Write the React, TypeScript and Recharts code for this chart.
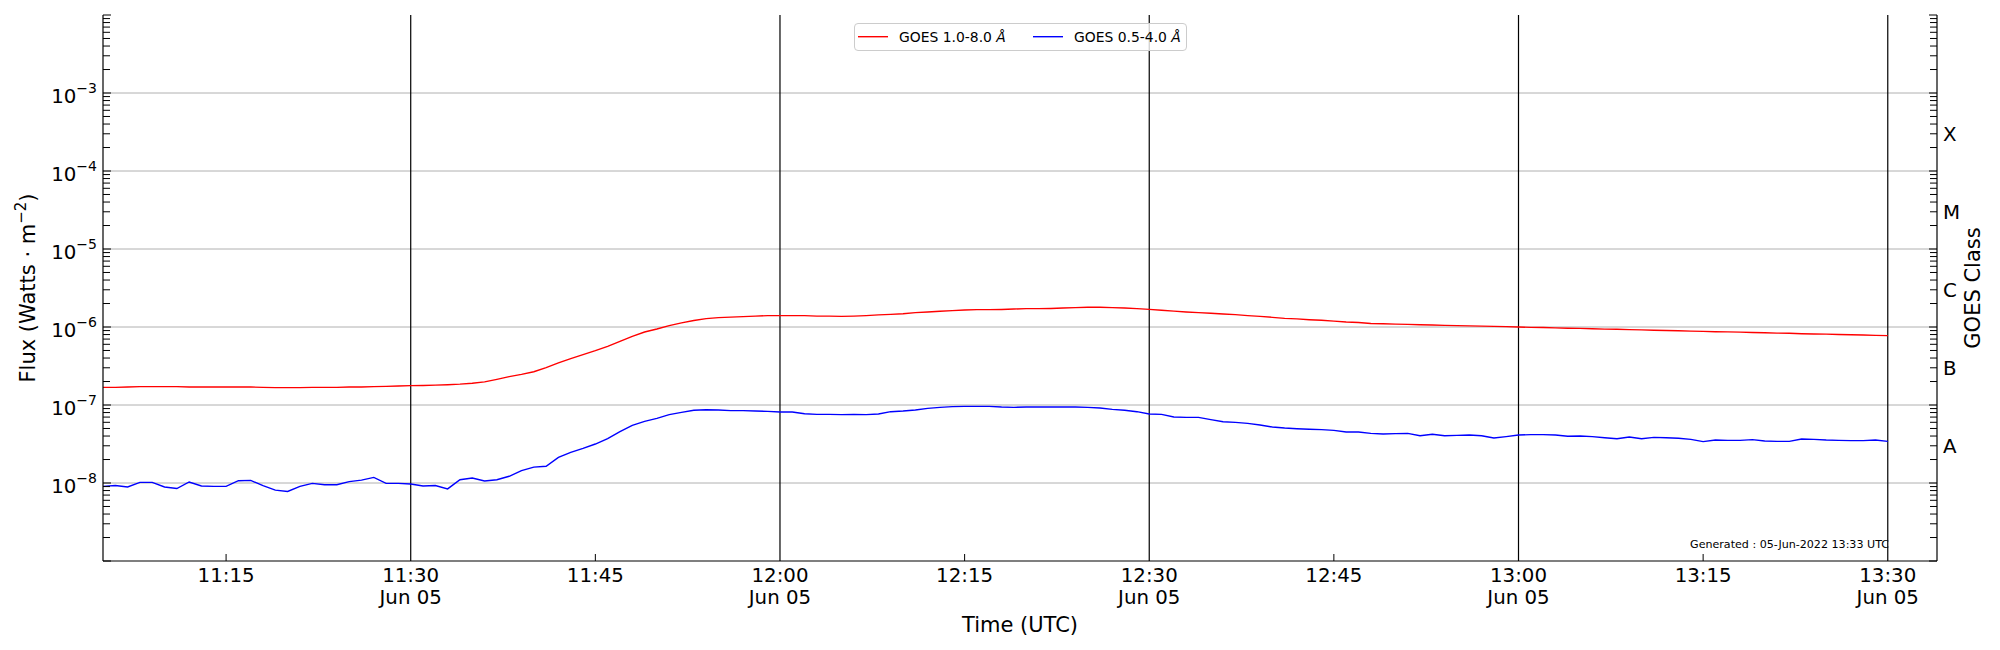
import { LineChart, Line, XAxis, YAxis, ReferenceLine, Legend } from "recharts";

// GOES XRS 1-minute averages, first sample at 11:05 UTC
const START_MINUTE = 5; // minutes after 11:00

const XRS_LONG = [
  1.685e-7, 1.685e-7, 1.7e-7, 1.72e-7, 1.72e-7, 1.72e-7, 1.72e-7, 1.7e-7, 1.7e-7, 1.7e-7,
  1.7e-7, 1.7e-7, 1.7e-7, 1.685e-7, 1.67e-7, 1.67e-7, 1.67e-7, 1.685e-7, 1.685e-7, 1.685e-7,
  1.7e-7, 1.7e-7, 1.72e-7, 1.735e-7, 1.75e-7, 1.77e-7, 1.78e-7, 1.8e-7, 1.82e-7, 1.85e-7,
  1.9e-7, 1.98e-7, 2.13e-7, 2.31e-7, 2.47e-7, 2.67e-7, 3.02e-7, 3.46e-7, 3.93e-7, 4.42e-7,
  4.97e-7, 5.65e-7, 6.55e-7, 7.59e-7, 8.63e-7, 9.43e-7, 1.04e-6, 1.13e-6, 1.21e-6, 1.28e-6,
  1.32e-6, 1.34e-6, 1.36e-6, 1.38e-6, 1.4e-6, 1.4e-6, 1.4e-6, 1.4e-6, 1.38e-6, 1.38e-6,
  1.37e-6, 1.38e-6, 1.4e-6, 1.43e-6, 1.45e-6, 1.48e-6, 1.53e-6, 1.56e-6, 1.59e-6, 1.62e-6,
  1.65e-6, 1.67e-6, 1.67e-6, 1.68e-6, 1.7e-6, 1.72e-6, 1.72e-6, 1.73e-6, 1.75e-6, 1.77e-6,
  1.79e-6, 1.79e-6, 1.77e-6, 1.75e-6, 1.72e-6, 1.68e-6, 1.64e-6, 1.6e-6, 1.56e-6, 1.53e-6,
  1.5e-6, 1.47e-6, 1.44e-6, 1.4e-6, 1.37e-6, 1.33e-6, 1.29e-6, 1.27e-6, 1.24e-6, 1.22e-6,
  1.19e-6, 1.16e-6, 1.14e-6, 1.11e-6, 1.1e-6, 1.09e-6, 1.08e-6, 1.07e-6, 1.06e-6, 1.05e-6,
  1.04e-6, 1.035e-6, 1.025e-6, 1.02e-6, 1.01e-6, 1.0e-6, 9.9e-7, 9.85e-7, 9.75e-7, 9.65e-7,
  9.6e-7, 9.5e-7, 9.4e-7, 9.35e-7, 9.25e-7, 9.2e-7, 9.1e-7, 9.0e-7, 8.95e-7, 8.85e-7,
  8.8e-7, 8.7e-7, 8.65e-7, 8.6e-7, 8.5e-7, 8.45e-7, 8.35e-7, 8.3e-7, 8.2e-7, 8.15e-7,
  8.1e-7, 8.0e-7, 7.95e-7, 7.9e-7, 7.8e-7, 7.75e-7,
];

const XRS_SHORT = [
  9.05e-9, 9.3e-9, 8.9e-9, 1.02e-8, 1.02e-8, 8.9e-9, 8.5e-9, 1.03e-8, 9.15e-9, 9.05e-9,
  9.05e-9, 1.07e-8, 1.08e-8, 9.25e-9, 8.1e-9, 7.8e-9, 9.05e-9, 9.9e-9, 9.5e-9, 9.5e-9,
  1.04e-8, 1.09e-8, 1.18e-8, 9.9e-9, 9.9e-9, 9.7e-9, 9.15e-9, 9.3e-9, 8.4e-9, 1.1e-8,
  1.16e-8, 1.06e-8, 1.1e-8, 1.22e-8, 1.44e-8, 1.6e-8, 1.64e-8, 2.13e-8, 2.47e-8, 2.78e-8,
  3.16e-8, 3.7e-8, 4.55e-8, 5.49e-8, 6.18e-8, 6.75e-8, 7.52e-8, 8.05e-8, 8.55e-8, 8.71e-8,
  8.63e-8, 8.46e-8, 8.46e-8, 8.38e-8, 8.29e-8, 8.13e-8, 8.13e-8, 7.74e-8, 7.59e-8, 7.59e-8,
  7.52e-8, 7.59e-8, 7.52e-8, 7.67e-8, 8.21e-8, 8.38e-8, 8.63e-8, 9.06e-8, 9.33e-8, 9.52e-8,
  9.61e-8, 9.61e-8, 9.61e-8, 9.43e-8, 9.33e-8, 9.43e-8, 9.43e-8, 9.43e-8, 9.43e-8, 9.43e-8,
  9.33e-8, 9.15e-8, 8.8e-8, 8.55e-8, 8.21e-8, 7.67e-8, 7.59e-8, 7.02e-8, 6.95e-8, 6.95e-8,
  6.49e-8, 6.11e-8, 5.99e-8, 5.82e-8, 5.54e-8, 5.22e-8, 5.07e-8, 4.97e-8, 4.88e-8, 4.83e-8,
  4.73e-8, 4.51e-8, 4.51e-8, 4.33e-8, 4.25e-8, 4.29e-8, 4.33e-8, 4.04e-8, 4.21e-8, 4.04e-8,
  4.08e-8, 4.12e-8, 4.04e-8, 3.77e-8, 3.93e-8, 4.12e-8, 4.17e-8, 4.17e-8, 4.12e-8, 3.97e-8,
  4.01e-8, 3.93e-8, 3.81e-8, 3.7e-8, 3.89e-8, 3.7e-8, 3.85e-8, 3.81e-8, 3.74e-8, 3.63e-8,
  3.39e-8, 3.56e-8, 3.52e-8, 3.52e-8, 3.6e-8, 3.45e-8, 3.42e-8, 3.42e-8, 3.66e-8, 3.63e-8,
  3.56e-8, 3.52e-8, 3.49e-8, 3.49e-8, 3.56e-8, 3.42e-8,
];

const SERIES_NAMES = ["GOES 1.0-8.0 ", "GOES 0.5-4.0 "];
const SERIES_COLORS = ["#ff0000", "#0000ff"];

const TIME_DOMAIN = [5, 154];
const TIME_TICKS = [15, 30, 45, 60, 75, 90, 105, 120, 135, 150];
const TIME_TICK_LABELS = [
  "11:15", "11:30", "11:45", "12:00", "12:15",
  "12:30", "12:45", "13:00", "13:15", "13:30",
];
const HOUR_MARKS = [30, 60, 90, 120, 150];
const DATE_LABEL = "Jun 05";

const DECADES = [1e-9, 1e-8, 1e-7, 1e-6, 1e-5, 1e-4, 1e-3, 1e-2];
const LABELLED_DECADES = [1e-8, 1e-7, 1e-6, 1e-5, 1e-4, 1e-3];
const CLASS_LABELS = ["A", "B", "C", "M", "X"];
const CLASS_CENTERS = [3.1623e-8, 3.1623e-7, 3.1623e-6, 3.1623e-5, 3.1623e-4];

const GENERATED = "Generated : 05-Jun-2022 13:33 UTC";

const FONT = '"DejaVu Sans", "Liberation Sans", sans-serif';
const TICK_FONT = 19.8;
const AXIS_FONT = 21;
const SUP_FONT = 14;

const rows = XRS_LONG.map((v, i) => ({
  t: START_MINUTE + i,
  long: v,
  short: XRS_SHORT[i],
}));

const MINORS: number[] = [];
DECADES.slice(0, -1).forEach((d) => {
  for (let m = 2; m <= 9; m++) MINORS.push(d * m);
});
const LEFT_TICKS = [...DECADES, ...MINORS].sort((a, b) => a - b);
const RIGHT_TICKS = [...DECADES, ...MINORS, ...CLASS_CENTERS].sort((a, b) => a - b);

const isDecade = (v: number) => DECADES.some((d) => Math.abs(v / d - 1) < 1e-6);
const isClassCenter = (v: number) => CLASS_CENTERS.findIndex((c) => Math.abs(v / c - 1) < 1e-6);

const TimeTick = ({ x, y, payload, index }: any) => {
  const v = payload.value;
  const hour = HOUR_MARKS.includes(v);
  const i = TIME_TICKS.indexOf(v);
  return (
    <g>
      {!hour && <line x1={x} x2={x} y1={y} y2={y - 7} stroke="#000" strokeWidth={1} />}
      <text x={x} y={y + 21} textAnchor="middle" fontSize={TICK_FONT} fill="#000">
        {TIME_TICK_LABELS[i >= 0 ? i : index]}
      </text>
      {hour && (
        <text x={x} y={y + 43} textAnchor="middle" fontSize={TICK_FONT} fill="#000">
          {DATE_LABEL}
        </text>
      )}
    </g>
  );
};

const FluxTick = ({ x, y, payload }: any) => {
  const v = payload.value;
  const major = isDecade(v);
  const labelled = LABELLED_DECADES.some((d) => Math.abs(v / d - 1) < 1e-6);
  const exp = Math.round(Math.log10(v));
  return (
    <g>
      <line x1={x} x2={x + (major ? 8 : 7)} y1={y} y2={y} stroke="#000" strokeWidth={1} />
      {labelled && (
        <text x={x - 6} y={y + 9.7} textAnchor="end" fontSize={TICK_FONT} fill="#000">
          10
          <tspan dy={-10} fontSize={SUP_FONT}>
            {"\u2212" + Math.abs(exp)}
          </tspan>
        </text>
      )}
    </g>
  );
};

const ClassTick = ({ x, y, payload }: any) => {
  const v = payload.value;
  const c = isClassCenter(v);
  if (c >= 0) {
    return (
      <text x={x + 6} y={y + 9} fontSize={TICK_FONT} fill="#000">
        {CLASS_LABELS[c]}
      </text>
    );
  }
  return <line x1={x - (isDecade(v) ? 8 : 7)} x2={x} y1={y} y2={y} stroke="#000" strokeWidth={1} />;
};

const FluxLabel = ({ viewBox }: any) => {
  const vb = viewBox || { x: 0, y: 15, width: 103, height: 546 };
  const x = vb.x + 35;
  const cy = vb.y + vb.height / 2;
  return (
    <text
      x={x}
      y={cy}
      transform={`rotate(-90 ${x} ${cy})`}
      textAnchor="middle"
      fontSize={AXIS_FONT}
      fill="#000"
    >
      Flux (Watts · m
      <tspan dy={-9} fontSize={SUP_FONT + 1}>
        {"\u22122"}
      </tspan>
      <tspan dy={9}>)</tspan>
    </text>
  );
};

const ClassLabel = ({ viewBox }: any) => {
  const vb = viewBox || { x: 1937, y: 15, width: 63, height: 546 };
  const x = vb.x + 43;
  const cy = vb.y + vb.height / 2;
  return (
    <text
      x={x}
      y={cy}
      transform={`rotate(-90 ${x} ${cy})`}
      textAnchor="middle"
      fontSize={AXIS_FONT}
      fill="#000"
    >
      GOES Class
    </text>
  );
};

const TimeLabel = ({ viewBox }: any) => {
  const vb = viewBox || { x: 103, y: 561, width: 1834, height: 89 };
  return (
    <g>
      <text x={vb.x + vb.width / 2} y={vb.y + 71} textAnchor="middle" fontSize={AXIS_FONT} fill="#000">
        Time (UTC)
      </text>
      <text x={vb.x + 1786} y={vb.y - 13} textAnchor="end" fontSize={11.1} fill="#000">
        {GENERATED}
      </text>
    </g>
  );
};

const LegendBox = () => (
  <div
    style={{
      boxSizing: "border-box",
      width: 333,
      height: 28,
      border: "1px solid #cccccc",
      borderRadius: 4,
      background: "rgba(255,255,255,0.8)",
    }}
  >
    <svg width={331} height={26} style={{ display: "block", fontFamily: FONT }}>
      {[0, 1].map((i) => {
        const x0 = i === 0 ? 3 : 178;
        return (
          <g key={i}>
            <line x1={x0} x2={x0 + 30} y1={12.7} y2={12.7} stroke={SERIES_COLORS[i]} strokeWidth={1.4} />
            <text x={x0 + 41} y={17.7} fontSize={13.9} fill="#000">
              {SERIES_NAMES[i]}
              <tspan fontStyle="italic">Å</tspan>
            </text>
          </g>
        );
      })}
    </svg>
  </div>
);

export default function App() {
  return (
    <div
      style={{
        position: "absolute",
        left: 0,
        top: 0,
        width: 2000,
        height: 650,
        background: "#fff",
        fontFamily: FONT,
      }}
    >
      <LineChart width={2000} height={650} data={rows} margin={{ top: 15, right: 0, bottom: 0, left: 0 }}>
        <XAxis
          dataKey="t"
          type="number"
          domain={TIME_DOMAIN}
          allowDataOverflow
          ticks={TIME_TICKS}
          interval={0}
          tick={(p: any) => <TimeTick {...p} />}
          tickSize={0}
          tickMargin={0}
          tickLine={false}
          height={89}
          axisLine={{ stroke: "#000", strokeWidth: 1.2 }}
          label={(p: any) => <TimeLabel {...p} />}
        />
        <XAxis
          xAxisId="top"
          orientation="top"
          dataKey="t"
          type="number"
          domain={TIME_DOMAIN}
          allowDataOverflow
          height={0}
          tick={false}
          tickLine={false}
          axisLine={{ stroke: "#000", strokeWidth: 1.2 }}
        />
        <YAxis
          yAxisId="left"
          scale="log"
          type="number"
          domain={[1e-9, 1e-2]}
          allowDataOverflow
          ticks={LEFT_TICKS}
          interval={0}
          tick={(p: any) => <FluxTick {...p} />}
          tickSize={0}
          tickMargin={0}
          tickLine={false}
          width={103}
          axisLine={{ stroke: "#000", strokeWidth: 1.2 }}
          label={(p: any) => <FluxLabel {...p} />}
        />
        <YAxis
          yAxisId="right"
          orientation="right"
          scale="log"
          type="number"
          domain={[1e-9, 1e-2]}
          allowDataOverflow
          ticks={RIGHT_TICKS}
          interval={0}
          tick={(p: any) => <ClassTick {...p} />}
          tickSize={0}
          tickMargin={0}
          tickLine={false}
          width={63}
          axisLine={{ stroke: "#000", strokeWidth: 1.2 }}
          label={(p: any) => <ClassLabel {...p} />}
        />
        {LABELLED_DECADES.map((d) => (
          <ReferenceLine key={d} yAxisId="left" y={d} stroke="#b0b0b0" strokeWidth={1} />
        ))}
        {HOUR_MARKS.map((m) => (
          <ReferenceLine key={m} yAxisId="left" x={m} stroke="#000" strokeWidth={1.2} />
        ))}
        <Line
          yAxisId="left"
          type="linear"
          dataKey="long"
          name={SERIES_NAMES[0]}
          stroke={SERIES_COLORS[0]}
          strokeWidth={1.4}
          dot={false}
          isAnimationActive={false}
        />
        <Line
          yAxisId="left"
          type="linear"
          dataKey="short"
          name={SERIES_NAMES[1]}
          stroke={SERIES_COLORS[1]}
          strokeWidth={1.4}
          dot={false}
          isAnimationActive={false}
        />
        <Legend
          layout="horizontal"
          verticalAlign="middle"
          align="center"
          content={() => <LegendBox />}
          wrapperStyle={{ left: 854, top: 23, width: 333, height: 28 }}
        />
      </LineChart>
    </div>
  );
}
